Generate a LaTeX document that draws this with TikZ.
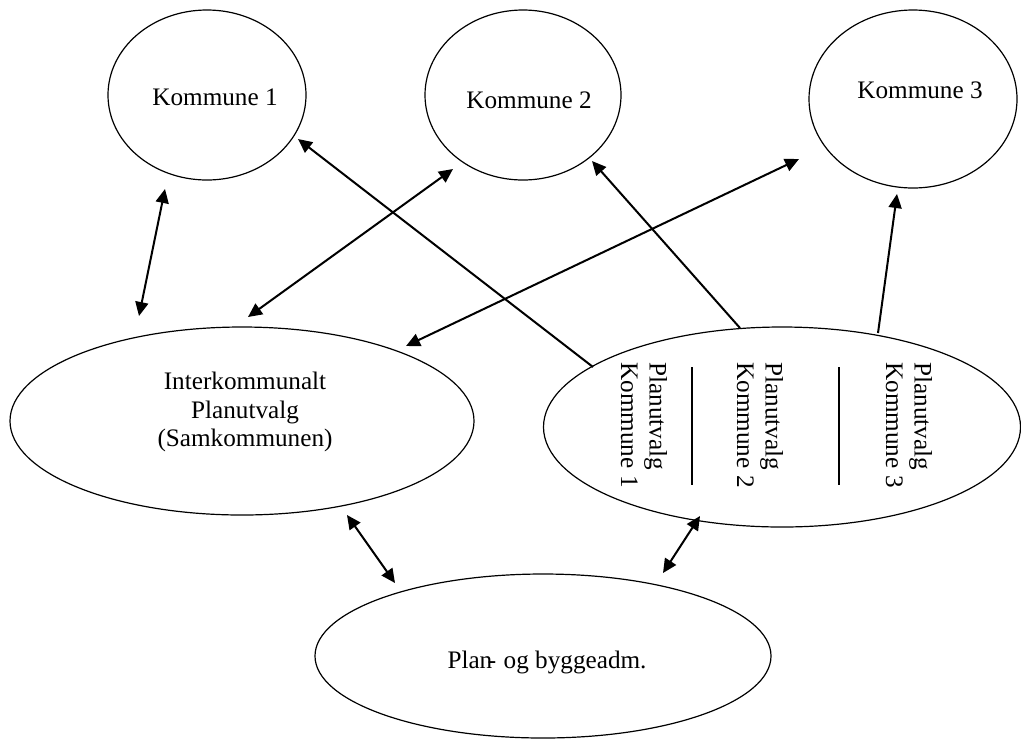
\documentclass[tikz,border=0pt]{standalone}
\usepackage{fontspec}
\setmainfont{Liberation Serif}
\usetikzlibrary{shapes.geometric,arrows.meta}
\tikzset{
  oval/.style={draw, line width=0.6pt, ellipse, inner sep=0pt},
  lbl/.style={inner sep=0pt, font=\fontsize{12.6}{14.3}\selectfont},
  conn/.style={line width=1pt},
  tip/.style={-{Triangle[length=7pt,width=6.5pt]}},
  dtip/.style={{Triangle[length=7pt,width=6.5pt]}-{Triangle[length=7pt,width=6.5pt]}},
  sep/.style={line width=0.6pt}
}
\begin{document}
\begin{tikzpicture}[x=0.5pt,y=-0.5pt]
\useasboundingbox (0,0) rectangle (1021,740);
% ellipses
\node[oval, minimum width=99pt, minimum height=85pt] (k1) at (207,95) {};
\node[oval, minimum width=98pt, minimum height=85pt] (k2) at (523,95) {};
\node[oval, minimum width=104pt, minimum height=89pt] (k3) at (913,99) {};
\node[oval, minimum width=232pt, minimum height=94pt] (ik) at (242,421) {};
\node[oval, minimum width=238.5pt, minimum height=100pt] (pu) at (782,427) {};
\node[oval, minimum width=228pt, minimum height=82pt] (pb) at (543,656) {};
% texts
\node[lbl] (t1) at (215,97) {Kommune 1};
\node[lbl] (t2) at (529,100) {Kommune 2};
\node[lbl] (t3) at (920,90) {Kommune 3};
\node[lbl, align=center] (tik) at (245,412) {Interkommunalt\\Planutvalg\\(Samkommunen)};
\node[lbl] (tpb) at (547,662) {Plan\kern-0.18em-\kern0.05em\ og byggeadm.};
\node[lbl, rotate=-90, align=left] (pu1) at (644,425) {Planutvalg\\Kommune 1};
\node[lbl, rotate=-90, align=left] (pu2) at (760,425) {Planutvalg\\Kommune 2};
\node[lbl, rotate=-90, align=left] (pu3) at (909,425) {Planutvalg\\Kommune 3};
% separators
\coordinate (s1a) at (692,367); \coordinate (s1b) at (692,485);
\coordinate (s2a) at (839,367); \coordinate (s2b) at (839,485);
\draw[sep] (s1a) -- (s1b);
\draw[sep] (s2a) -- (s2b);
% connector end points
\coordinate (a1) at (165,189); \coordinate (a2) at (139,316);
\coordinate (b1) at (453,169); \coordinate (b2) at (248,317);
\coordinate (c1) at (799,159); \coordinate (c2) at (406,346);
\coordinate (d1) at (593,367); \coordinate (d2) at (298,139);
\coordinate (e1) at (740,328); \coordinate (e2) at (592,161);
\coordinate (f1) at (878,333); \coordinate (f2) at (897,194);
\coordinate (g1) at (347,515); \coordinate (g2) at (395,583);
\coordinate (h1) at (700,516); \coordinate (h2) at (663,573);
% connectors
\draw[conn, dtip] (a1) -- (a2);
\draw[conn, dtip] (b1) -- (b2);
\draw[conn, dtip] (c1) -- (c2);
\draw[conn, tip] (d1) -- (d2);
\draw[conn, tip] (e1) -- (e2);
\draw[conn, tip] (f1) -- (f2);
\draw[conn, dtip] (g1) -- (g2);
\draw[conn, dtip] (h1) -- (h2);
\end{tikzpicture}
\end{document}
